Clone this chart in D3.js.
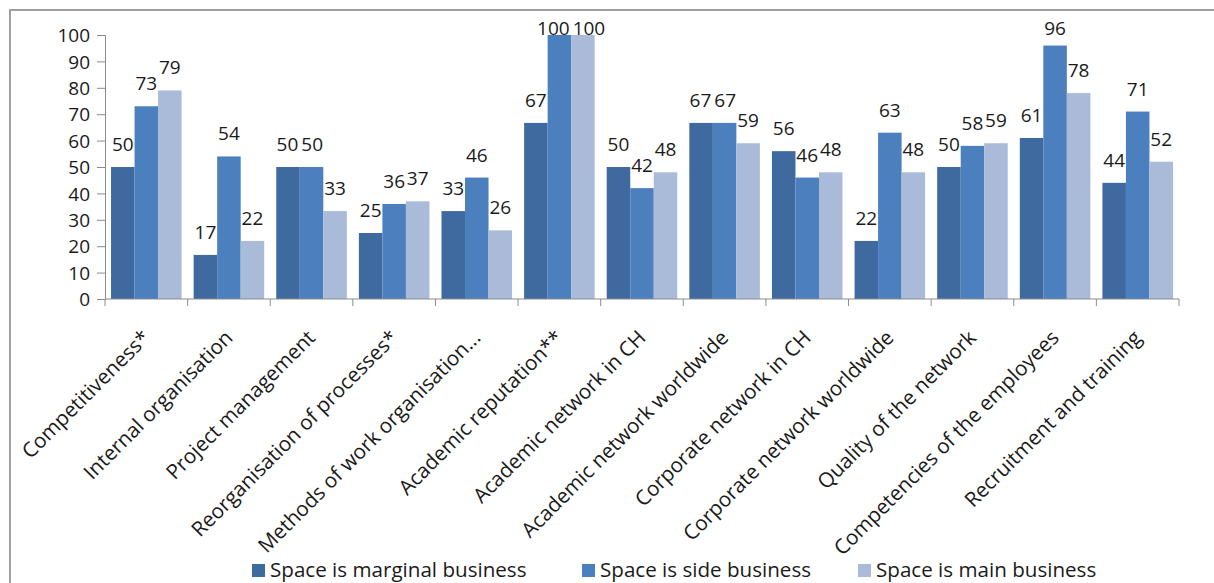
<!DOCTYPE html>
<html>
<head>
    <meta charset="UTF-8">
    <title>Space business chart</title>
    <style>
        body {
            margin: 0;
            overflow: hidden;
            background-color: #ffffff;
        }
        text {
            font-family: "Open Sans", Lato, sans-serif;
            fill: #1a1a1a;
        }
    </style>
    <script src="https://cdn.jsdelivr.net/npm/d3@7"></script>
</head>
<body>
    <script>
        // categories and series
        const categories = ["Competitiveness*", "Internal organisation", "Project management",
            "Reorganisation of processes*", "Methods of work organisation...", "Academic reputation**",
            "Academic network in CH", "Academic network worldwide", "Corporate network in CH",
            "Corporate network worldwide", "Quality of the network", "Competencies of the employees",
            "Recruitment and training"];
        const seriesNames = ["Space is marginal business", "Space is side business", "Space is main business"];
        const marginal = [50, 16.7, 50, 25, 33.3, 66.7, 50, 66.7, 56, 22, 50, 61, 44];
        const side = [73, 54, 50, 36, 46, 100, 42, 66.7, 46, 63, 58, 96, 71];
        const main = [79, 22, 33.3, 37, 26, 100, 48, 59, 48, 48, 59, 78, 52];
        const yTicks = [0, 10, 20, 30, 40, 50, 60, 70, 80, 90, 100];

        const width = 1214;
        const height = 583;
        const numSize = '19px';
        const textSize = '20.6px';
        const svg = d3.select('body')
            .append('svg')
            .attr('width', width)
            .attr('height', height);

        // outer frame
        svg.append('rect')
            .attr('x', 10).attr('y', 10)
            .attr('width', width + 20).attr('height', height + 20)
            .attr('fill', 'none')
            .attr('stroke', '#a0a0a0')
            .attr('stroke-width', 2);

        const plot = {left: 105, right: 1179, top: 35, bottom: 299};
        const color = d3.scaleOrdinal()
            .domain(seriesNames)
            .range(["#3f6a9f", "#4c7fbd", "#a9bbd9"]);

        const x = d3.scaleBand()
            .domain(categories)
            .range([plot.left, plot.right])
            .paddingInner(0.146)
            .paddingOuter(0.073);
        const xs = d3.scaleBand()
            .domain(seriesNames)
            .range([0, x.bandwidth()]);
        const y = d3.scaleLinear()
            .domain([0, 100])
            .range([plot.bottom, plot.top]);

        const rows = categories.map((c, i) => ({
            cat: c,
            vals: [marginal[i], side[i], main[i]].map((v, j) => ({name: seriesNames[j], value: v}))
        }));

        const groups = svg.append('g').selectAll('g')
            .data(rows)
            .join('g')
            .attr('transform', d => `translate(${x(d.cat)},0)`);

        groups.selectAll('rect')
            .data(d => d.vals)
            .join('rect')
            .attr('x', d => xs(d.name))
            .attr('y', d => y(d.value))
            .attr('width', xs.bandwidth())
            .attr('height', d => y(0) - y(d.value))
            .attr('fill', d => color(d.name));

        const fmt = d3.format('.0f');
        groups.each(function() {
            const labels = d3.select(this).selectAll('text')
                .data(d => d.vals)
                .join('text')
                .attr('x', d => xs(d.name) + xs.bandwidth() / 2)
                .attr('y', d => Math.max(y(d.value) - 16, 35))
                .attr('text-anchor', 'middle')
                .style('font-size', numSize)
                .text(d => fmt(d.value));
            // push apart labels that would overlap (clamped at the top)
            const nodes = labels.nodes();
            for (let j = 1; j < nodes.length; j++) {
                const a = nodes[j - 1], b = nodes[j];
                if (a.getAttribute('y') !== b.getAttribute('y')) continue;
                const ax = +a.getAttribute('x'), bx = +b.getAttribute('x');
                const need = (a.getComputedTextLength() + b.getComputedTextLength()) / 2 + 3;
                const gap = bx - ax;
                if (gap < need) {
                    const shift = (need - gap) / 2;
                    a.setAttribute('x', ax - shift);
                    b.setAttribute('x', bx + shift);
                }
            }
        });

        // y axis
        const yAxis = svg.append('g')
            .attr('transform', `translate(${plot.left},0)`)
            .call(d3.axisLeft(y).tickValues(yTicks).tickSize(8).tickPadding(7));
        yAxis.selectAll('text').style('font-size', numSize).attr('dy', '0.35em');
        yAxis.selectAll('line, path').attr('stroke', '#8c8c8c');

        // x axis with ticks between categories
        const xAxis = svg.append('g');
        xAxis.append('line')
            .attr('x1', plot.left).attr('x2', plot.right)
            .attr('y1', plot.bottom).attr('y2', plot.bottom)
            .attr('stroke', '#8c8c8c');
        xAxis.selectAll('line.tick')
            .data(d3.range(categories.length + 1))
            .join('line')
            .attr('class', 'tick')
            .attr('x1', i => plot.left + i * x.step())
            .attr('x2', i => plot.left + i * x.step())
            .attr('y1', plot.bottom).attr('y2', plot.bottom + 7)
            .attr('stroke', '#8c8c8c');
        xAxis.selectAll('text')
            .data(categories)
            .join('text')
            .attr('transform', d => `translate(${x(d) + x.bandwidth() / 2 + 5},${plot.bottom + 40}) rotate(-45)`)
            .attr('text-anchor', 'end')
            .style('font-size', textSize)
            .text(d => d);

        // legend
        const legendX = [252, 582, 858];
        const legend = svg.append('g').selectAll('g')
            .data(seriesNames)
            .join('g')
            .attr('transform', (d, i) => `translate(${legendX[i]},564)`);
        legend.append('rect')
            .attr('width', 13).attr('height', 13)
            .attr('fill', d => color(d));
        legend.append('text')
            .attr('x', 18).attr('y', 13)
            .style('font-size', textSize)
            .text(d => d);
    </script>
</body>
</html>
